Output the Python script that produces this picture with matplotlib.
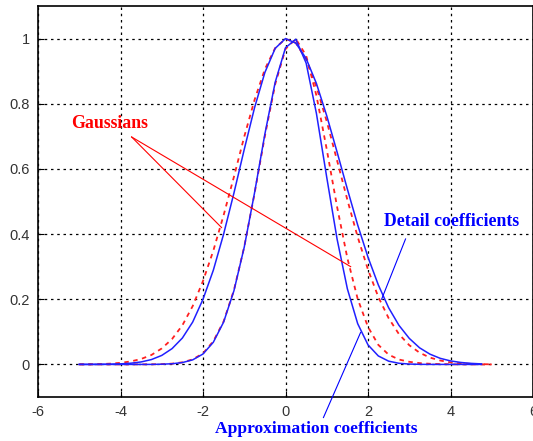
import numpy as np
import matplotlib
matplotlib.use('Agg')
import matplotlib.pyplot as plt

plt.rcParams['axes.unicode_minus'] = False

# x positions shared by all curves
x = np.arange(-5, 5.001, 0.25)

# red dashed Gaussians
gauss_wide = [0.0003, 0.0006, 0.001, 0.0024, 0.0048, 0.0092, 0.0167, 0.029, 0.049, 0.078,
              0.12, 0.179, 0.256, 0.349, 0.458, 0.576, 0.699, 0.812, 0.906, 0.971,
              0.999, 0.987, 0.936, 0.852, 0.746, 0.626, 0.505, 0.391, 0.291, 0.207,
              0.142, 0.093, 0.059, 0.036, 0.021, 0.012, 0.0063, 0.0032, 0.0016, 0.0008, 0.0003]
gauss_narrow = [0, 0, 0, 0, 0, 0, 0.0001, 0.0003, 0.0008, 0.0024,
                0.0064, 0.0154, 0.034, 0.071, 0.132, 0.228, 0.361, 0.525, 0.701, 0.86,
                0.968, 0.999, 0.948, 0.825, 0.66, 0.484, 0.326, 0.201, 0.115, 0.06,
                0.03, 0.015, 0.008, 0.004, 0.002, 0.001, 0.0004, 0.0001, 0, 0, 0]

# blue solid curves
detail = [0.0001, 0.0001, 0.0003, 0.0008, 0.0017, 0.0037, 0.0076, 0.0149, 0.0276, 0.0485,
          0.081, 0.13, 0.2, 0.289, 0.4, 0.526, 0.66, 0.788, 0.896, 0.97,
          1.0, 0.986, 0.939, 0.862, 0.763, 0.652, 0.538, 0.428, 0.329, 0.244,
          0.174, 0.12, 0.08, 0.051, 0.0316, 0.0187, 0.0108, 0.006, 0.0032, 0.0016]
approx = [0, 0, 0, 0, 0, 0, 0, 0, 0.0007, 0.002,
          0.0057, 0.014, 0.032, 0.068, 0.13, 0.226, 0.36, 0.527, 0.707, 0.866,
          0.972, 0.998, 0.925, 0.77, 0.574, 0.385, 0.232, 0.125, 0.06, 0.026,
          0.01, 0.0035, 0.0011, 0.0003, 0, 0, 0, 0, 0, 0]

fig = plt.figure(figsize=(5.33, 4.41), dpi=100)
ax = fig.add_axes([38/533, 44/441, 495/533, 391/441])

ax.plot(x, gauss_wide, color='#ff2020', lw=1.3, dashes=(2.5, 2.5), zorder=3)
ax.plot(x, gauss_narrow, color='#ff2020', lw=1.3, dashes=(2.5, 2.5), zorder=3)
ax.plot(x[:len(detail)], detail, color='#2020ff', lw=1.1, zorder=4)
ax.plot(x[:len(approx)], approx, color='#2020ff', lw=1.1, zorder=4)

ax.set_xlim(-6, 6)
ax.set_ylim(-0.1, 1.1)
ax.set_xticks([-6, -4, -2, 0, 2, 4, 6])
ax.set_yticks([0, 0.2, 0.4, 0.6, 0.8, 1])
ax.set_yticklabels(['0', '0.2', '0.4', '0.6', '0.8', '1'])
ax.grid(True, color='black', linestyle=(0, (2, 3)), linewidth=0.9, zorder=0)
ax.tick_params(direction='in', length=4, labelsize=10.5, labelcolor='#333333',
               colors='black', pad=6)
for t in ax.get_xticklabels() + ax.get_yticklabels():
    t.set_fontfamily('Liberation Sans')
for s in ax.spines.values():
    s.set_linewidth(1.2)

# annotations
ax.text(-4.27, 0.738, 'Gaussians', color='red', fontsize=12.8, fontweight='bold',
        family='Liberation Serif', ha='center', va='center')
ax.plot([-3.73, -1.55], [0.698, 0.42], color='red', lw=0.8, zorder=5)
ax.plot([-3.73, 1.58], [0.698, 0.30], color='red', lw=0.8, zorder=5)

ax.text(4.03, 0.44, 'Detail coefficients', color='blue', fontsize=12.8, fontweight='bold',
        family='Liberation Serif', ha='center', va='center')
ax.plot([2.91, 2.33], [0.385, 0.2], color='blue', lw=0.8, zorder=5)

ax.text(0.74, -0.197, 'Approximation coefficients', color='blue', fontsize=12.6,
        fontweight='bold', family='Liberation Serif', ha='center', va='center',
        clip_on=False)
ax.plot([0.92, 1.82], [-0.163, 0.098], color='blue', lw=0.8, zorder=5, clip_on=False)

fig.savefig('out.png', dpi=100)
